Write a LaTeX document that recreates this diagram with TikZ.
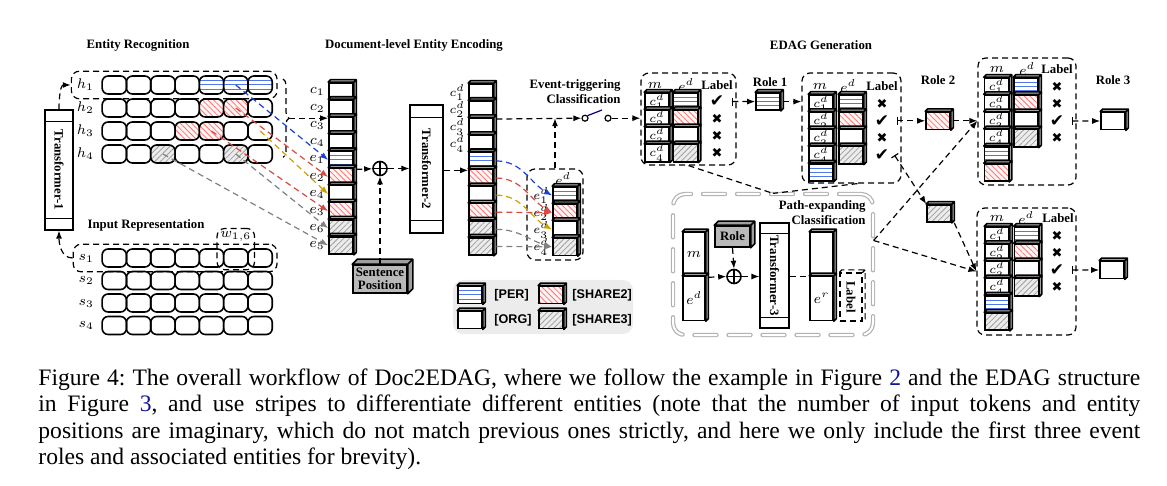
\documentclass[tikz,border=0pt]{standalone}
\usepackage[no-math]{fontspec}
\setmainfont{Liberation Serif}
\newfontfamily\legfont{Liberation Sans}
\newfontfamily\markfont{DejaVu Sans}
\usetikzlibrary{arrows.meta, positioning, calc, fit, patterns.meta, decorations.pathreplacing}

\definecolor{perblue}{RGB}{80,120,235}
\definecolor{arrblue}{RGB}{25,65,215}
\definecolor{arrred}{RGB}{215,75,65}
\definecolor{arrgold}{RGB}{205,160,0}
\definecolor{linkblue}{RGB}{20,20,150}

% check and cross marks
\newcommand{\ck}{{\markfont\fontsize{8.5}{9}\selectfont ✔}}
\newcommand{\cx}{{\markfont\fontsize{6.5}{7}\selectfont ✖}}

% 3D sides of a node: [fill] name depth
\newcommand{\faces}[3][gray!55]{%
  \draw[thick, fill=#1, line join=round] (#2.north west) -- ++(#3,#3) -- ($(#2.north east)+(#3,#3)$)
    -- ($(#2.south east)+(#3,#3)$) -- (#2.south east) -- (#2.north east) -- cycle
    (#2.north east) -- ++(#3,#3);
}
% one cell of a column: name, x, y, look, text
\newcommand{\cube}[5]{%
  \node[cellbox,#4] (#1) at ({#2},{#3}) {#5};
  \faces{#1}{2.5}
}

\tikzset{
  ttl/.style={font=\bfseries\fontsize{6.4}{7.4}\selectfont, inner sep=1pt},
  lab/.style={font=\fontsize{7.5}{9}\selectfont, inner sep=0.5pt},
  slab/.style={font=\fontsize{6.5}{7}\selectfont, inner sep=0pt},
  tok/.style={draw, thick, rounded corners=3pt, minimum width=12.15pt, minimum height=9pt, inner sep=0pt},
  cellbox/.style={draw, thick, fill=white, minimum width=12pt, minimum height=8.6pt, inner sep=0pt, font=\fontsize{6.5}{7}\selectfont},
  blank/.style={},
  per/.style={path picture={\foreach \f in {0.25,0.5,0.75}
      \draw[perblue, line width=.5pt] ($(path picture bounding box.south west)!\f!(path picture bounding box.north west)$) -- ($(path picture bounding box.south east)!\f!(path picture bounding box.north east)$);}},
  sha2/.style={preaction={fill=red!4}, pattern={Lines[angle=-45, distance=2pt, line width=.4pt]}, pattern color=red!55},
  sha3/.style={preaction={fill=gray!15}, pattern={Lines[angle=45, distance=2pt, line width=.4pt]}, pattern color=gray!75},
  dline/.style={line width=.6pt, dash pattern=on 3pt off 2pt},
  arr/.style={dline, -{Latex[length=4pt, width=3pt]}},
  barr/.style={dline, {Bar[width=4pt]}-{Latex[length=4pt, width=3pt]}},
  dbox/.style={draw, dline, rounded corners=4pt},
  mk/.style={inner sep=0.5pt},
  leg/.style={font=\legfont\bfseries\fontsize{6.3}{7}\selectfont, inner sep=0pt},
  tfbox/.style={draw, semithick, fill=white},
  oplus/.style={circle, draw, thick, fill=white, minimum size=7pt, inner sep=0pt, path picture={\draw[thick] (path picture bounding box.north) -- (path picture bounding box.south) (path picture bounding box.west) -- (path picture bounding box.east);}},
  graybox/.style={draw, thick, fill=gray!55, inner sep=0pt, font=\bfseries\fontsize{6.4}{6.6}\selectfont},
  pbox/.style={draw=gray!60, double=white, double distance=1pt, line width=.6pt, dash pattern=on 11pt off 6pt, rounded corners=6pt, line cap=round},
}

\begin{document}
\begin{tikzpicture}[x=0.5pt, y=0.5pt]
\useasboundingbox (0,0) rectangle (1167,-486);

% titles
\node[ttl] (tEnt) at (138,-45) {Entity Recognition};
\node[ttl] (tDoc) at (414,-45) {Document-level Entity Encoding};
\node[ttl] (tGen) at (821,-45) {EDAG Generation};
\node[ttl] (tInp) at (146,-225) {Input Representation};
\node[ttl, align=right, anchor=east] (tEvt) at (623,-92) {Event-triggering\\Classification};
\node[ttl] (tR1) at (770,-82) {Role 1};
\node[ttl] (tR2) at (938,-80) {Role 2};
\node[ttl] (tR3) at (1113,-80) {Role 3};

% token rows h
\foreach \r/\row in {1/{blank,blank,blank,blank,per,per,per}, 2/{blank,blank,blank,blank,sha2,sha2,blank}, 3/{blank,blank,blank,sha2,sha2,blank,blank}, 4/{blank,blank,sha3,blank,blank,sha3,blank}}{
  \foreach \s [count=\c] in \row
    \node[tok,\s] (h\r-\c) at ({90+24.3*\c},{-62-23*\r}) {};
  \node[lab, left=3pt of h\r-1] (hl\r) {$h_\r$};
}
% token rows s
\foreach \r in {1,...,4}{
  \foreach \c in {1,...,7}
    \node[tok] (s\r-\c) at ({90+24.3*\c},{-235.5-22.5*\r}) {};
  \node[lab, left=3pt of s\r-1] (sl\r) {$s_\r$};
}
\node[dbox, fit=(hl1)(h1-7), inner sep=2pt] (hbox) {};
\node[dbox, fit=(sl1)(s1-7), inner sep=2pt] (sbox) {};
\node[lab, above=2.5pt of s1-6] (wl) {$w_{1,6}$};
\node[dbox, fit=(wl)(s1-6), inner sep=1pt] (wbox) {};
\draw[dline, decorate, decoration={brace, amplitude=3pt}] (283,-79) -- (283,-157.4);
\coordinate (brtip) at (289,-118.2);

% Transformer-1
\node[tfbox, minimum width=14pt, minimum height=60pt] (tf1) at (59,-170) {};
\draw[semithick] ([yshift=-6pt]tf1.north west) -- ([yshift=-6pt]tf1.north east)
  ([yshift=6pt]tf1.south west) -- ([yshift=6pt]tf1.south east);
\node[ttl, rotate=-90] (tf1t) at (tf1) {Transformer-1};
\draw[arr] (tf1.north) to[out=90, in=180] (hbox.west);
\draw[arr] (sbox.west) to[out=180, in=-90] (tf1.south);

% column c / e
\foreach \s/\t [count=\i] in {blank/c_1, blank/c_2, blank/c_3, blank/c_4, per/e_1, sha2/e_2, blank/e_4, sha2/e_3, sha3/e_6, sha3/e_5}{
  \cube{cc\i}{341}{-83-17.1*\i+8.55}{\s}{}
  \node[lab, left=1pt of cc\i] (ccl\i) {$\t$};
}
\draw[arr] (brtip) -- (brtip -| cc2.west);
\draw[arr, arrblue] (h1-6.center) -- (cc5.west);
\draw[arr, arrred] (h2-6.center) -- (cc6.west);
\draw[arr, arrgold] (h3-7.center) -- (cc7.west);
\draw[arr, arrred] (h3-5.center) -- (cc8.west);
\draw[arr, gray] (h4-6.center) -- (cc9.west);
\draw[arr, gray] (h4-3.center) -- (cc10.west);

% sentence position and Transformer-2
\node[oplus] (op1) at (380,-168.5) {};
\node[graybox, minimum width=27pt, minimum height=14pt, align=center] (spos) at (380,-279) {Sentence\\Position};
\faces[gray!75]{spos}{5}
\node[tfbox, minimum width=16.5pt, minimum height=64pt] (tf2) at (426.5,-169) {};
\draw[semithick] ([yshift=-6.5pt]tf2.north west) -- ([yshift=-6.5pt]tf2.north east)
  ([yshift=6.5pt]tf2.south west) -- ([yshift=6.5pt]tf2.south east);
\node[ttl, rotate=-90] (tf2t) at (tf2) {Transformer-2};
\draw[arr] ([xshift=1.25pt]cc5.south east) -- (op1);
\draw[arr] (spos.north) -- (op1.south);
\draw[arr] (op1) -- (op1 -| tf2.west);

% column c^d / e^d
\foreach \s [count=\i] in {blank,blank,blank,blank,per,sha2,blank,sha2,sha3,sha3}{
  \cube{cd\i}{481}{-84-17.1*\i+8.55}{\s}{}
}
\foreach \i in {1,...,4}{
  \node[slab, left=1.5pt of cd\i] (cdl\i) {$c^d_\i$};
}
\draw[arr] (tf2.east |- cd5.south) -- (cd5.south west);

% entity box e^d
\node[dbox, minimum width=28pt, minimum height=45.5pt] (edbox) at (555,-214.5) {};
\node[lab] (edh) at (563,-179) {$e^d$};
\foreach \s [count=\i] in {per,sha2,blank,sha3}{
  \cube{ed\i}{565}{-187-17.1*\i+8.55}{\s}{}
  \node[slab, left=1.5pt of ed\i] (edl\i) {$e^d_\i$};
}
\draw[arr, arrblue] ([xshift=1.25pt]cd5.east) to[out=0, in=150] (ed1.west);
\draw[arr, arrred] ([xshift=1.25pt]cd6.east) to[out=0, in=150] (ed2.west);
\draw[arr, arrgold] ([xshift=1.25pt]cd7.east) to[out=0, in=150] (ed3.west);
\draw[arr, arrred] ([xshift=1.25pt]cd8.east) to[out=0, in=180] (ed2.west);
\draw[arr, gray] ([xshift=1.25pt]cd9.east) to[out=0, in=165] (ed4.west);
\draw[arr, gray] ([xshift=1.25pt]cd10.east) -- (ed4.west);

% legend
\node[fill=gray!15, rounded corners=5pt, minimum width=90pt, minimum height=27pt, inner sep=0pt] (legend) at (543,-307) {};
\cube{lg1}{470}{-295}{per}{}
\cube{lg2}{470}{-320}{blank}{}
\cube{lg3}{551}{-295}{sha2}{}
\cube{lg4}{551}{-320}{sha3}{}
\node[leg, anchor=west] (lgt1) at (494,-295) {[PER]};
\node[leg, anchor=west] (lgt2) at (494,-320) {[ORG]};
\node[leg, anchor=west] (lgt3) at (572,-295) {[SHARE2]};
\node[leg, anchor=west] (lgt4) at (572,-320) {[SHARE3]};

% event-triggering switch
\node[circle, draw, semithick, fill=white, minimum size=3pt, inner sep=0pt] (sw1) at (585,-118.2) {};
\node[circle, draw, semithick, fill=white, minimum size=3pt, inner sep=0pt] (sw2) at (608,-118.2) {};
\coordinate (lever) at (602,-110);
\draw[semithick, blue!50!black] (sw1.north east) -- (lever);
\draw[arr] ([xshift=1.25pt]cd2.south east) -- (sw1.west);
\draw[arr] (edbox.north) -- (edbox.north |- sw1);

% EDAG box 1
\node[dbox, minimum width=47.5pt, minimum height=46pt] (edag1) at (688.5,-119) {};
\node[lab] (ma0) at (655,-85) {$m$};
\node[lab] (ea0) at (686,-85) {$e^d$};
\node[ttl] (la0) at (717,-85) {Label};
\foreach \s/\k [count=\i] in {per/\ck, sha2/\cx, blank/\cx, sha3/\cx}{
  \cube{ma\i}{657}{-93-17.2*\i+8.6}{blank}{$c^d_\i$}
  \cube{ea\i}{685.5}{-93-17.2*\i+8.6}{\s}{}
  \node[mk] (ka\i) at (717,-93-17.2*\i+8.6) {\k};
}
\draw[arr] (sw2.east) -- (sw2 -| edag1.west);
\cube{r1}{768}{-101.6}{per}{}
\draw[barr] ([xshift=3pt]ka1.east) -- (r1.west);

% EDAG box 2
\node[dbox, minimum width=49.5pt, minimum height=55pt] (edag2) at (851.5,-128) {};
\node[lab] (mb0) at (820,-86) {$m$};
\node[lab] (eb0) at (848,-86) {$e^d$};
\node[ttl] (lb0) at (882,-86) {Label};
\foreach \s/\k [count=\i] in {per/\cx, sha2/\ck, blank/\cx, sha3/\ck}{
  \cube{mb\i}{821}{-95-17.2*\i+8.6}{blank}{$c^d_\i$}
  \cube{eb\i}{851}{-95-17.2*\i+8.6}{\s}{}
  \node[mk] (kb\i) at (882,-95-17.2*\i+8.6) {\k};
}
\cube{mb5}{821}{-95-17.2*5+8.6}{per}{}
\draw[arr] ([xshift=1.25pt]r1.east) -- (r1 -| edag2.west);
\cube{r2}{938}{-120.8}{sha2}{}
\draw[barr] ([xshift=3pt]kb2.east) -- (r2.west);
\cube{r2b}{939}{-213.5}{sha3}{}
\draw[barr] ([xshift=2pt]kb4.east) -- (r2b.north west);

% EDAG box 3
\node[dbox, minimum width=49pt, minimum height=63.5pt] (edag3) at (1027,-121.5) {};
\node[lab] (mc0) at (997,-69) {$m$};
\node[lab] (ec0) at (1027,-69) {$e^d$};
\node[ttl] (lc0) at (1057,-69) {Label};
\foreach \s/\k [count=\i] in {per/\cx, sha2/\cx, blank/\ck, sha3/\cx}{
  \cube{mc\i}{996.5}{-78-17.2*\i+8.6}{blank}{$c^d_\i$}
  \cube{ec\i}{1026}{-78-17.2*\i+8.6}{\s}{}
  \node[mk] (kc\i) at (1057,-78-17.2*\i+8.6) {\k};
}
\cube{mc5}{996.5}{-78-17.2*5+8.6}{per}{}
\cube{mc6}{996.5}{-78-17.2*6+8.6}{sha2}{}
\draw[arr] ([xshift=1.25pt]r2.east) -- (r2 -| edag3.west);
\cube{r3}{1113}{-121}{blank}{}
\draw[barr] ([xshift=3pt]kc3.east) -- (r3.west);

% EDAG box 4
\node[dbox, minimum width=49.5pt, minimum height=63.5pt] (edag4) at (1026.5,-271.5) {};
\node[lab] (md0) at (997,-218) {$m$};
\node[lab] (ed0) at (1026,-218) {$e^d$};
\node[ttl] (ld0) at (1058,-218) {Label};
\foreach \s/\k [count=\i] in {per/\cx, sha2/\cx, blank/\ck, sha3/\cx}{
  \cube{md\i}{997}{-227-17.2*\i+8.6}{blank}{$c^d_\i$}
  \cube{ee\i}{1026.5}{-227-17.2*\i+8.6}{\s}{}
  \node[mk] (kd\i) at (1057,-227-17.2*\i+8.6) {\k};
}
\cube{md5}{997}{-227-17.2*5+8.6}{per}{}
\cube{md6}{997}{-227-17.2*6+8.6}{sha3}{}
\draw[arr] ([xshift=1.25pt]r2b.south east) -- (edag4.west);
\cube{r4}{1112}{-270}{blank}{}
\draw[barr] ([xshift=3pt]kd3.east) -- (r4.west);

% path-expanding classification
\node[pbox, minimum width=100pt, minimum height=70.5pt] (pbox) at (773,-264.5) {};
\node[ttl, align=right, anchor=east] (tPth) at (868,-213) {Path-expanding\\Classification};
\draw[dline] (edag1.south) -- (pbox.north);
\draw[dline] ([xshift=3pt]edag2.south) -- (pbox.north);
\draw[arr] ([yshift=12pt]pbox.east) -- (r2 -| edag3.west);
\draw[arr] ([yshift=12pt]pbox.east) -- (edag4.west);
\node[cellbox, minimum width=11pt, minimum height=22pt, font=\fontsize{7.5}{9}\selectfont] (pm) at (694,-254.5) {$m$};
\faces{pm}{2.5}
\node[cellbox, minimum width=11pt, minimum height=22pt, font=\fontsize{7.5}{9}\selectfont] (pe) at (694,-298.5) {$e^d$};
\faces{pe}{2.5}
\node[graybox, minimum width=17.5pt, minimum height=10.5pt] (role) at (732.5,-236.5) {Role};
\faces[gray!75]{role}{4}
\node[oplus] (op2) at (734,-276.5) {};
\node[tfbox, minimum width=14.5pt, minimum height=52.5pt] (tf3) at (774.5,-275.5) {};
\draw[semithick] ([yshift=-5.5pt]tf3.north west) -- ([yshift=-5.5pt]tf3.north east)
  ([yshift=5.5pt]tf3.south west) -- ([yshift=5.5pt]tf3.south east);
\node[ttl, rotate=-90] (tf3t) at (tf3) {Transformer-3};
\node[cellbox, minimum width=11.5pt, minimum height=22pt] (er1) at (821.5,-254.5) {};
\faces{er1}{2.5}
\node[cellbox, minimum width=11.5pt, minimum height=22pt, font=\fontsize{7.5}{9}\selectfont] (er2) at (821.5,-298.5) {$e^r$};
\faces{er2}{2.5}
\node[draw, dline, fill=white, minimum width=11pt, minimum height=24pt, inner sep=0pt] (lbl) at (851,-297) {};
\draw[dline] (lbl.north west) -- ++(2.5,2.5) -- ($(lbl.north east)+(2.5,2.5)$) -- ($(lbl.south east)+(2.5,2.5)$) -- (lbl.south east)
  (lbl.north east) -- ++(2.5,2.5);
\node[ttl, rotate=-90] (lblt) at (lbl) {Label};
\draw[arr] ([xshift=1.25pt]pm.south east) -- (op2.west);
\draw[arr] (role.south) -- (op2.north);
\draw[arr] (op2.east) -- (op2 -| tf3.west);
\draw[dline] (op2 -| tf3.east) -- (op2 -| er1.west);

% caption
\node[anchor=north west, text width=551pt, align=justify, inner sep=0pt, font=\fontsize{11.8}{13.25}\selectfont\frenchspacing] (cap) at (38,-368)
  {Figure 4: The overall workflow of Doc2EDAG, where we follow the example in Figure \textcolor{linkblue}{2} and the EDAG structure\linebreak
   in Figure \textcolor{linkblue}{3}, and use stripes to differentiate different entities (note that the number of input tokens and entity\linebreak
   positions are imaginary, which do not match previous ones strictly, and here we only include the first three event\linebreak
   roles and associated entities for brevity).};
\end{tikzpicture}
\end{document}
